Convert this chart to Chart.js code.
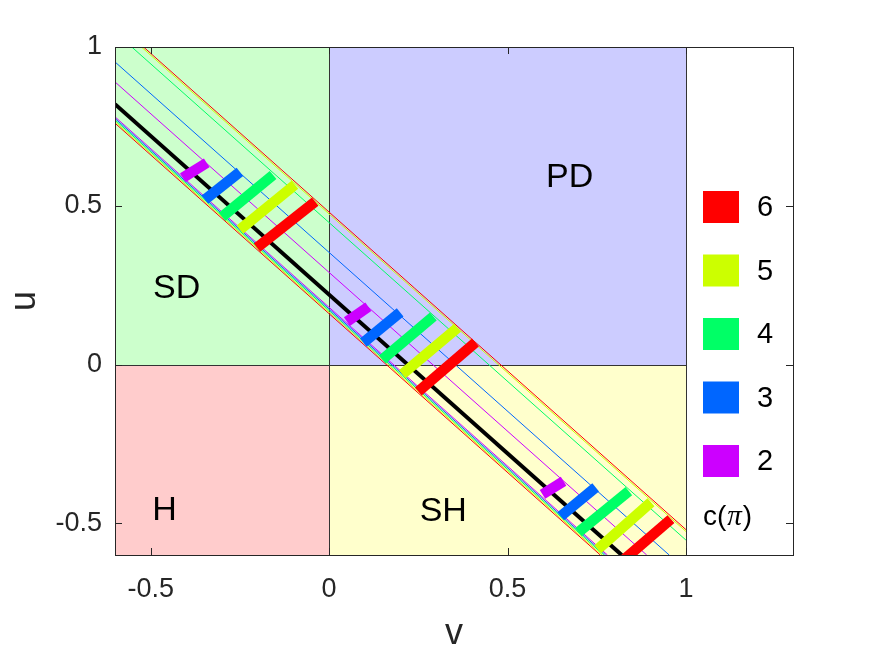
<!DOCTYPE html>
<html>
<head>
<meta charset="utf-8">
<script src="https://cdn.jsdelivr.net/npm/chart.js@4"></script>
<style>
	html, body { margin: 0; padding: 0; background: #fff; }
	#wrap { width: 875px; height: 657px; }
</style>
</head>
<body>
<div id="wrap"><canvas id="chart" width="875" height="657"></canvas></div>
<script>
(function () {
	'use strict';

	// c values and their colours (hsv map)
	var cValues = [2, 3, 4, 5, 6];
	var cColors = ['#cc00ff', '#0066ff', '#00ff66', '#ccff00', '#ff0000'];

	// axis ticks
	var xTicks = [-0.5, 0, 0.5, 1];
	var yTicks = [-0.5, 0, 0.5, 1];

	// game regions (v range, u range)
	var regionNames = ['SD', 'PD', 'H', 'SH'];
	var regionV = [[-0.6, 0], [0, 1], [-0.6, 0], [0, 1]];
	var regionU = [[0, 1], [0, 1], [-0.6, 0], [-0.6, 0]];

	// boundary lines for each c, endpoints [v, u]
	var upperLines = [
		[[-0.6, 0.89], [0.89, -0.6]],
		[[-0.6, 0.953], [0.953, -0.6]],
		[[-0.553, 1], [1, -0.553]],
		[[-0.526, 1], [1, -0.526]],
		[[-0.52, 1], [1, -0.52]]
	];
	var lowerLines = [
		[[-0.6, 0.78], [0.78, -0.6]],
		[[-0.6, 0.775], [0.775, -0.6]],
		[[-0.6, 0.77], [0.77, -0.6]],
		[[-0.6, 0.765], [0.765, -0.6]],
		[[-0.6, 0.76], [0.76, -0.6]]
	];
	var blackLine = [[-0.6, 0.82], [0.82, -0.6]];

	// thick segments, three per c value
	var segments = [
		[[[-0.41, 0.588], [-0.343, 0.635]], [[0.05, 0.135], [0.11, 0.182]], [[0.598, -0.409], [0.657, -0.368]]],
		[[[-0.348, 0.519], [-0.25, 0.607]], [[0.096, 0.069], [0.199, 0.164]], [[0.649, -0.478], [0.747, -0.387]]],
		[[[-0.30, 0.465], [-0.157, 0.597]], [[0.149, 0.016], [0.292, 0.151]], [[0.699, -0.528], [0.84, -0.399]]],
		[[[-0.25, 0.425], [-0.096, 0.566]], [[0.205, -0.031], [0.36, 0.116]], [[0.753, -0.582], [0.902, -0.434]]],
		[[[-0.202, 0.368], [-0.039, 0.513]], [[0.25, -0.085], [0.41, 0.069]], [[0.80, -0.64], [0.958, -0.487]]]
	];

	var FONT = '"Liberation Sans", Arial, Helvetica, sans-serif';
	var AXIS = '#262626';
	var regionColors = ['#ccffcc', '#ccccff', '#ffcccc', '#ffffcc'];
	var labelAt = [[-0.427, 0.239], [0.674, 0.588], [-0.461, -0.459], [0.32, -0.462]];

	function pts(pair) {
		return pair.map(function (p) { return { x: p[0], y: p[1] }; });
	}

	function lineSet(pair, color, width) {
		return {
			data: pts(pair),
			showLine: true,
			borderColor: color,
			borderWidth: width,
			borderCapStyle: 'butt',
			pointRadius: 0,
			fill: false
		};
	}

	var datasets = [];
	segments.forEach(function (group, i) {
		group.forEach(function (seg) {
			datasets.push(lineSet(seg, cColors[i], 10.5));
		});
	});
	datasets.push(lineSet(blackLine, '#000000', 4));
	cValues.forEach(function (c, i) {
		datasets.push(lineSet(upperLines[i], cColors[i], 1));
		datasets.push(lineSet(lowerLines[i], cColors[i], 1));
	});

	var regionPlugin = {
		id: 'regions',
		beforeDatasetsDraw: function (chart) {
			var ctx = chart.ctx, xs = chart.scales.x, ys = chart.scales.y;
			ctx.save();
			regionNames.forEach(function (name, i) {
				var x1 = Math.round(xs.getPixelForValue(regionV[i][0]));
				var x2 = Math.round(xs.getPixelForValue(regionV[i][1]));
				var y1 = Math.round(ys.getPixelForValue(regionU[i][1]));
				var y2 = Math.round(ys.getPixelForValue(regionU[i][0]));
				ctx.fillStyle = regionColors[i];
				ctx.fillRect(x1, y1, x2 - x1, y2 - y1);
			});
			regionNames.forEach(function (name, i) {
				var x1 = Math.round(xs.getPixelForValue(regionV[i][0])) + 0.5;
				var x2 = Math.round(xs.getPixelForValue(regionV[i][1])) + 0.5;
				var y1 = Math.round(ys.getPixelForValue(regionU[i][1])) + 0.5;
				var y2 = Math.round(ys.getPixelForValue(regionU[i][0])) + 0.5;
				ctx.strokeStyle = '#333333';
				ctx.lineWidth = 1;
				ctx.strokeRect(x1, y1, x2 - x1, y2 - y1);
			});
			ctx.fillStyle = '#000';
			ctx.font = '34px ' + FONT;
			ctx.textAlign = 'center';
			ctx.textBaseline = 'middle';
			regionNames.forEach(function (name, i) {
				ctx.fillText(name, xs.getPixelForValue(labelAt[i][0]), ys.getPixelForValue(labelAt[i][1]));
			});
			ctx.restore();
		},
		afterDatasetsDraw: function (chart) {
			var ctx = chart.ctx, a = chart.chartArea, xs = chart.scales.x, ys = chart.scales.y;
			var len = 7;
			ctx.save();
			ctx.strokeStyle = AXIS;
			ctx.lineWidth = 1;
			ctx.beginPath();
			xTicks.forEach(function (v) {
				var px = Math.round(xs.getPixelForValue(v)) + 0.5;
				ctx.moveTo(px, a.bottom); ctx.lineTo(px, a.bottom - len);
				ctx.moveTo(px, a.top); ctx.lineTo(px, a.top + len);
			});
			yTicks.forEach(function (u) {
				var py = Math.round(ys.getPixelForValue(u)) + 0.5;
				ctx.moveTo(a.left, py); ctx.lineTo(a.left + len, py);
				ctx.moveTo(a.right, py); ctx.lineTo(a.right - len, py);
			});
			ctx.stroke();
			ctx.strokeRect(Math.round(a.left) + 0.5, Math.round(a.top) + 0.5,
				Math.round(a.right - a.left), Math.round(a.bottom - a.top));
			ctx.restore();
		},
		afterDraw: function (chart) {
			var ctx = chart.ctx, a = chart.chartArea;
			var bx = a.right - 90;
			ctx.save();
			ctx.textBaseline = 'middle';
			ctx.textAlign = 'left';
			ctx.font = '29px ' + FONT;
			for (var r = 0; r < cValues.length; r++) {
				var i = cValues.length - 1 - r;
				var cy = a.top + 160 + r * 63.5;
				ctx.fillStyle = cColors[i];
				ctx.fillRect(bx, cy - 16, 36, 32);
				ctx.fillStyle = '#000';
				ctx.fillText(String(cValues[i]), bx + 54, cy + 1);
			}
			var ty = a.top + 470;
			ctx.fillStyle = '#000';
			ctx.font = '28px ' + FONT;
			ctx.fillText('c(', bx, ty);
			var w = ctx.measureText('c(').width;
			ctx.font = 'italic 29px "Liberation Serif", "DejaVu Serif", serif';
			ctx.fillText('\u03c0', bx + w + 1, ty);
			var w2 = ctx.measureText('\u03c0').width;
			ctx.font = '28px ' + FONT;
			ctx.fillText(')', bx + w + w2 + 2, ty);
			ctx.restore();
		}
	};

	var chart = new Chart(document.getElementById('chart'), {
		type: 'scatter',
		data: { datasets: datasets },
		plugins: [regionPlugin],
		options: {
			responsive: false,
			animation: false,
			layout: { padding: { left: 0, right: 82, top: 47, bottom: 0 } },
			plugins: {
				legend: { display: false },
				tooltip: { enabled: false }
			},
			scales: {
				x: {
					type: 'linear',
					min: -0.6,
					max: 1.3,
					grid: { display: false },
					border: { display: false },
					afterBuildTicks: function (s) {
						s.ticks = xTicks.map(function (v) { return { value: v }; });
					},
					afterFit: function (s) { s.height = 102; },
					ticks: {
						color: AXIS,
						font: { family: FONT, size: 27 },
						padding: 10,
						maxRotation: 0,
						autoSkip: false,
						callback: function (v) { return String(v); }
					},
					title: {
						display: true,
						text: 'v',
						color: AXIS,
						font: { family: FONT, size: 36 },
						padding: { top: 0, bottom: 1 }
					}
				},
				y: {
					type: 'linear',
					min: -0.6,
					max: 1,
					grid: { display: false },
					border: { display: false },
					afterBuildTicks: function (s) {
						s.ticks = yTicks.map(function (v) { return { value: v }; });
					},
					afterFit: function (s) { s.width = 115; },
					ticks: {
						color: AXIS,
						font: { family: FONT, size: 27 },
						padding: 5,
						autoSkip: false,
						callback: function (v) { return String(v); }
					},
					title: {
						display: true,
						text: 'u',
						color: AXIS,
						font: { family: FONT, size: 36 },
						padding: { top: 3, bottom: 0 }
					}
				}
			}
		}
	});
})();
</script>
</body>
</html>
